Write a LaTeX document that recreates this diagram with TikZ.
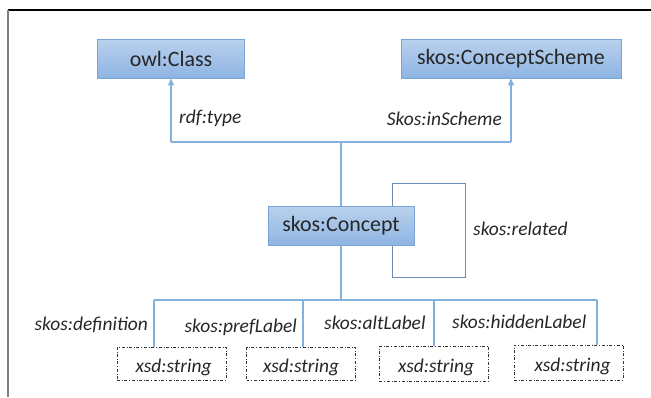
\documentclass[tikz,border=0pt]{standalone}
\usepackage{fontspec}
\setmainfont{Carlito}
\usetikzlibrary{arrows.meta}
\definecolor{boxtop}{HTML}{B9D1EC}
\definecolor{boxbot}{HTML}{8EB4E3}
\definecolor{boxborder}{HTML}{7BA3D6}
\definecolor{connblue}{HTML}{85B0DE}
\definecolor{loopc}{HTML}{6A8AB5}
\definecolor{txt}{HTML}{262626}
\begin{document}
\begin{tikzpicture}[x=1bp,y=-1bp,
  cls/.style={draw=boxborder, line width=0.9bp, top color=boxtop, bottom color=boxbot,
    minimum height=39bp, inner sep=0pt, font=\fontsize{22}{26}\selectfont, text=txt},
  lit/.style={draw=black!80, dash dot, line width=0.8bp, minimum width=109bp,
    minimum height=34bp, inner sep=0pt, text height=17bp, text depth=0pt,
    font=\itshape\fontsize{19.5}{23}\selectfont, text=txt},
  lbl/.style={font=\itshape\fontsize{19.5}{23}\selectfont, inner sep=0pt, text=txt},
  conn/.style={draw=connblue, line width=1.1bp},
  tip/.style={-{Triangle[width=6bp,length=7bp]}},
  loopline/.style={draw=loopc, line width=1bp},
]
\useasboundingbox (0,0) rectangle (651,397);
% frame
\draw[black, line width=1.5bp] (8,10) -- (651,10);
\draw[gray, line width=2bp] (8,10) -- (8,397);

% class nodes
\node[cls, minimum width=147bp] (owl) at (171,58.5) {owl:Class};
\node[cls, minimum width=220bp] (cs) at (511,58.5) {skos:ConceptScheme};
\node[cls, minimum width=146bp] (con) at (341,226) {skos:Concept};

% literal nodes
\node[lit, minimum height=33bp] (s1) at (171.5,363.5) {\hspace*{4bp}xsd:string};
\node[lit, minimum height=33bp] (s2) at (301,363.5) {xsd:string};
\node[lit, minimum height=35bp] (s3) at (434,363.5) {\hspace*{4bp}xsd:string};
\node[lit, minimum height=35bp] (s4) at (568.5,362.5) {\hspace*{8bp}xsd:string};

% upper connectors
\coordinate (hl) at (171,142);
\coordinate (hr) at (511,142);
\coordinate (ht) at (341,142);
\draw[conn] (hl) -- (hr);
\draw[conn, tip] (hl) -- (owl.south);
\draw[conn, tip] (hr) -- (cs.south);
\draw[conn] (ht) -- (con.north);
\node[lbl, anchor=west] (ltype) at (179,118) {rdf:type};
\node[lbl, anchor=east] (lscheme) at (502,119) {Skos:inScheme};

% self loop
\coordinate (ltl) at (392,183);
\coordinate (lbr) at (465,277);
\draw[loopline] (con.north -| ltl) -- (ltl) -| (lbr) -| (con.south -| ltl);
\node[lbl, anchor=west] (lrel) at (473,229) {skos:related};

% lower connectors
\coordinate (bt) at (341,300);
\coordinate (b1) at (154,300);
\coordinate (b2) at (303,300);
\coordinate (b3) at (434,300);
\coordinate (b4) at (597,300);
\draw[conn] (con.south) -- (bt);
\draw[conn] (b1) -- (b4);
\draw[conn] (b1) -- (b1 |- s1.north);
\draw[conn] (b2) -- (b2 |- s2.north);
\draw[conn] (b3) -- (b3 |- s3.north);
\draw[conn] (b4) -- (b4 |- s4.north);
\node[lbl, anchor=east] (ldef) at (148,325) {skos:definition};
\node[lbl, anchor=east] (lpref) at (297,327) {skos:prefLabel};
\node[lbl, anchor=west] (lalt) at (324,323) {skos:altLabel};
\node[lbl, anchor=west] (lhid) at (452,322) {skos:hiddenLabel};
\end{tikzpicture}
\end{document}
